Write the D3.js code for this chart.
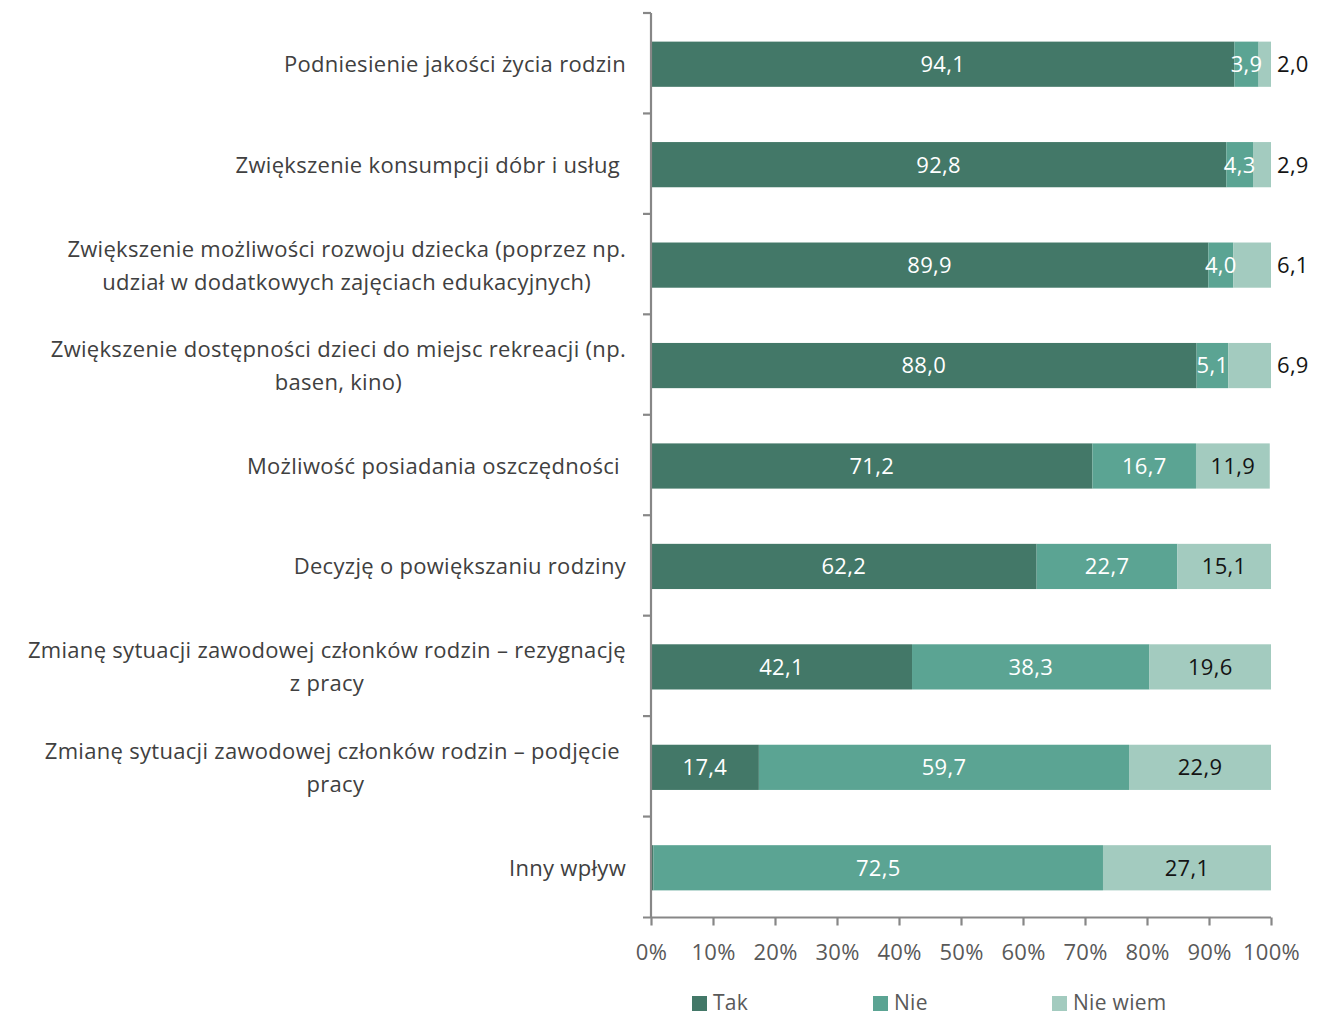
<!DOCTYPE html>
<html>
<head>
<meta charset="utf-8">
<script src="https://cdn.jsdelivr.net/npm/d3@7"></script>
<style>
  body { margin: 0; background: #fff; }
  svg { font-family: "Open Sans", sans-serif; }
  text { white-space: pre; }
</style>
</head>
<body>
<svg id="chart" width="1320" height="1016"></svg>
<script>
const categories = [
  ["Podniesienie jakości życia rodzin"],
  ["Zwiększenie konsumpcji dóbr i usług "],
  ["Zwiększenie możliwości rozwoju dziecka (poprzez np.", "udział w dodatkowych zajęciach edukacyjnych)"],
  ["Zwiększenie dostępności dzieci do miejsc rekreacji (np.", "basen, kino)"],
  ["Możliwość posiadania oszczędności "],
  ["Decyzję o powiększaniu rodziny"],
  ["Zmianę sytuacji zawodowej członków rodzin – rezygnację", "z pracy"],
  ["Zmianę sytuacji zawodowej członków rodzin – podjęcie ", "pracy"],
  ["Inny wpływ"]
];
const seriesNames = ["Tak", "Nie", "Nie wiem"];
const tak = [94.1, 92.8, 89.9, 88.0, 71.2, 62.2, 42.1, 17.4, 0.4];
const nie = [3.9, 4.3, 4.0, 5.1, 16.7, 22.7, 38.3, 59.7, 72.5];
const nieWiem = [2.0, 2.9, 6.1, 6.9, 11.9, 15.1, 19.6, 22.9, 27.1];
const tickValues = [0, 10, 20, 30, 40, 50, 60, 70, 80, 90, 100];
const colors = ["#437868", "#5ba493", "#a3cbbf"];

const svg = d3.select("#chart");
const margin = { left: 651, right: 49, top: 13, bottom: 99 };
const W = 1320, H = 1016;
const FS = 22, LS = 0.3;
const x = d3.scaleLinear().domain([0, 100]).range([margin.left, W - margin.right]);
const y = d3.scaleBand().domain(d3.range(categories.length)).range([margin.top + 1, H - margin.bottom + 1]).paddingInner(0.55).paddingOuter(0.275);
const yOuter = d3.scaleBand().domain(d3.range(categories.length)).range([margin.top, H - margin.bottom]);

const stackData = categories.map((c, i) => ({ i, Tak: tak[i], Nie: nie[i], "Nie wiem": nieWiem[i] }));
const stack = d3.stack().keys(seriesNames)(stackData);

const fmt = v => d3.format(".1f")(v).replace(".", ",");

const barG = svg.append("g");
const labG = svg.append("g");
stack.forEach((layer, k) => {
  barG.append("g").selectAll("rect").data(layer).join("rect")
    .attr("x", d => x(d[0]))
    .attr("width", d => x(d[1]) - x(d[0]))
    .attr("y", d => y(d.data.i))
    .attr("height", y.bandwidth())
    .attr("fill", colors[k]);
  labG.append("g").selectAll("text").data(layer.filter(d => d[1] - d[0] >= 1)).join("text")
    .attr("x", d => {
      const v = d[1] - d[0];
      if (k === 2 && v < 10) return x(100) + 6;
      return (x(d[0]) + x(d[1])) / 2;
    })
    .attr("y", d => y(d.data.i) + y.bandwidth() / 2)
    .attr("dy", "0.36em")
    .attr("text-anchor", d => (k === 2 && d[1] - d[0] < 10) ? "start" : "middle")
    .attr("font-size", FS)
    .attr("letter-spacing", LS)
    .attr("fill", d => k === 2 ? "#141414" : "#ffffff")
    .text(d => fmt(d[1] - d[0]));
});

// x axis
const xAxis = d3.axisBottom(x).tickValues(tickValues).tickSize(8).tickFormat(d => d + "%");
const xg = svg.append("g").attr("transform", `translate(0,${H - margin.bottom + 0.5})`).call(xAxis);
xg.select(".domain").attr("stroke", "#878787").attr("stroke-width", 2.2).attr("d", `M${x(0) - 8},0H${x(100)}`);
xg.selectAll(".tick line").attr("stroke", "#878787").attr("stroke-width", 2.2);
xg.selectAll(".tick text").attr("font-size", FS).attr("letter-spacing", LS).attr("fill", "#595959").attr("y", 27).attr("font-family", "Open Sans");

// y axis
const yAxis = d3.axisLeft(yOuter).tickSize(0).tickFormat("");
const yg = svg.append("g").attr("transform", `translate(${x(0)},0)`).call(yAxis);
yg.select(".domain").attr("stroke", "#878787").attr("stroke-width", 2.2).attr("d", `M0,${margin.top}V${H - margin.bottom}`);
yg.selectAll(".tick").remove();
yg.selectAll(".ytick").data(d3.range(categories.length)).join("line")
  .attr("x1", -8).attr("x2", 0)
  .attr("y1", i => yOuter(i)).attr("y2", i => yOuter(i))
  .attr("stroke", "#878787").attr("stroke-width", 2.2);

// category labels
const labelRight = x(0) - 25;
const lineH = 33;
categories.forEach((lines, i) => {
  const cy = y(i) + y.bandwidth() / 2;
  const tg = svg.append("g");
  const texts = lines.map((ln, j) => tg.append("text")
    .attr("font-size", FS)
    .attr("letter-spacing", LS)
    .attr("fill", "#404040")
    .attr("text-anchor", "middle")
    .attr("y", cy + (j - (lines.length - 1) / 2) * lineH)
    .attr("dy", "0.36em")
    .text(ln));
  const maxW = d3.max(texts, t => t.node().getComputedTextLength());
  texts.forEach(t => t.attr("x", labelRight - maxW / 2));
});

// legend
const legendX = [692, 873, 1052];
const lgd = svg.append("g");
seriesNames.forEach((s, k) => {
  lgd.append("rect").attr("x", legendX[k]).attr("y", 996).attr("width", 15).attr("height", 15).attr("fill", colors[k]);
  lgd.append("text").attr("x", legendX[k] + 21).attr("y", 1010)
    .attr("font-size", 21).attr("letter-spacing", LS).attr("fill", "#595959").text(s);
});
</script>
</body>
</html>
